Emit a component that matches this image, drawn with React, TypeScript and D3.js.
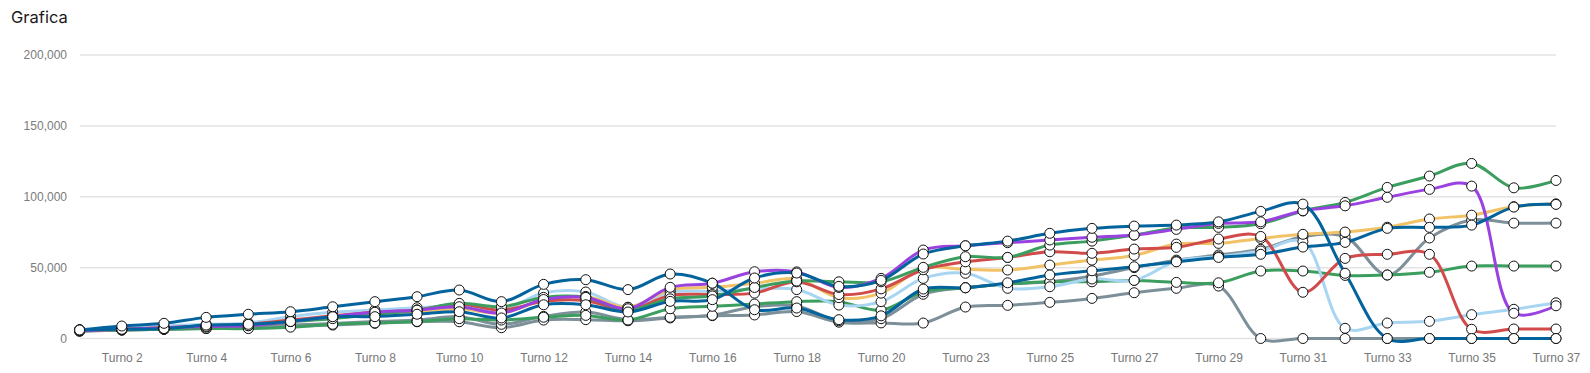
import * as d3 from 'd3';
import React, { useEffect, useRef } from 'react';

const categories = [
  'Turno 1', 'Turno 2', 'Turno 3', 'Turno 4', 'Turno 5', 'Turno 6', 'Turno 7', 'Turno 8', 'Turno 9',
  'Turno 10', 'Turno 11', 'Turno 12', 'Turno 13', 'Turno 14', 'Turno 15', 'Turno 16', 'Turno 17',
  'Turno 18', 'Turno 19', 'Turno 20', 'Turno 22', 'Turno 23', 'Turno 24', 'Turno 25', 'Turno 26',
  'Turno 27', 'Turno 28', 'Turno 29', 'Turno 30', 'Turno 31', 'Turno 32', 'Turno 33', 'Turno 34',
  'Turno 35', 'Turno 36', 'Turno 37',
];

const yTicks = [0, 50000, 100000, 150000, 200000];

// one array per player
const bluePlayerA = [6000, 8800, 10700, 14900, 17100, 18900, 22400, 26000, 29500, 34200, 26000, 38200, 41500, 34500, 45500, 39000, 20300, 21500, 13300, 16000, 34900, 35800, 39300, 44800, 47800, 50600, 54100, 57200, 59400, 64500, 67800, 77700, 78400, 80000, 92700, 94600];
const bluePlayerB = [6000, 6500, 7000, 9500, 10000, 12000, 15400, 15400, 17100, 18900, 14500, 23800, 23800, 18700, 26200, 27400, 42700, 46200, 36800, 41000, 59600, 65400, 68700, 74200, 77700, 79300, 80000, 82300, 89700, 94800, 46000, 0, 0, 0, 0, 0];
const lightBluePlayer = [6000, 7000, 8800, 10000, 11000, 15400, 18500, 20100, 21700, 23000, 20000, 32100, 32800, 22000, 32800, 33300, 35000, 34500, 23600, 26000, 42400, 46000, 35400, 36500, 42000, 41000, 54500, 57700, 61700, 68300, 7200, 10900, 12100, 16800, 20600, 25200];
const purplePlayer = [5500, 6500, 7500, 8500, 9000, 12000, 15500, 18500, 20000, 22400, 18000, 27500, 29000, 21000, 36100, 39000, 47100, 47000, 36000, 42400, 62400, 65400, 67600, 69500, 71400, 73000, 77000, 81200, 82300, 90100, 93600, 99600, 105200, 107500, 17800, 23100];
const redPlayer = [6000, 6500, 7500, 9000, 10000, 13000, 16000, 18500, 20100, 24300, 20000, 26200, 26700, 20000, 30400, 31000, 32000, 40000, 31000, 35000, 48500, 54100, 57200, 61200, 60100, 63100, 64300, 70200, 72000, 32600, 56500, 59400, 59400, 6500, 6700, 6700];
const yellowPlayer = [6000, 6500, 7500, 8500, 9500, 12000, 15000, 17000, 19000, 21000, 18000, 27000, 29700, 22000, 34400, 36100, 38900, 42000, 28800, 32000, 49500, 48800, 48300, 51800, 55300, 58600, 66600, 67100, 70600, 73500, 75100, 78500, 84300, 87000, 93000, 95000];
const greenPlayerA = [6000, 6500, 7000, 8000, 9000, 11900, 14000, 17000, 20000, 24800, 22400, 29000, 29000, 20000, 28000, 30000, 36000, 40500, 40000, 40000, 50200, 57700, 57200, 65900, 68700, 73000, 78000, 78400, 81000, 90000, 96000, 106600, 114600, 123500, 106300, 111500];
const greenPlayerB = [5500, 6000, 6500, 7000, 7000, 8000, 10000, 11000, 12000, 14000, 13000, 15000, 16300, 13000, 21000, 22700, 24300, 26000, 26000, 20000, 33000, 35800, 38400, 40000, 40000, 41000, 39600, 39300, 47600, 47600, 44500, 44800, 46700, 51100, 51100, 51100];
const grayPlayerA = [5500, 6000, 6500, 7500, 8000, 9500, 10500, 12000, 13000, 15400, 10000, 15600, 18700, 13300, 15000, 16400, 22400, 23000, 12500, 14000, 31200, 35800, 38400, 40000, 44100, 50000, 55300, 58900, 62900, 71800, 71800, 44800, 70900, 83600, 81400, 81400];
const grayPlayerB = [5000, 6000, 6500, 7000, 7500, 8500, 9500, 10700, 11800, 11800, 7600, 13000, 13300, 12500, 14500, 16100, 16600, 19000, 11500, 11000, 10900, 22200, 23400, 25500, 28300, 32300, 35400, 37000, 0, 0, 0, 0, 0, 0, 0, 0];

const series = [
  { name: 'Gris 2', color: '#7d9099', values: grayPlayerB },
  { name: 'Gris 1', color: '#7d9099', values: grayPlayerA },
  { name: 'Verde 2', color: '#3b9e5e', values: greenPlayerB },
  { name: 'Celeste', color: '#a8d5f2', values: lightBluePlayer },
  { name: 'Amarillo', color: '#f1c366', values: yellowPlayer },
  { name: 'Rojo', color: '#d24b4b', values: redPlayer },
  { name: 'Verde 1', color: '#3b9e5e', values: greenPlayerA },
  { name: 'Morado', color: '#9a42df', values: purplePlayer },
  { name: 'Azul 2', color: '#03639c', values: bluePlayerB },
  { name: 'Azul 1', color: '#03639c', values: bluePlayerA },
];

function App() {
  const ref = useRef<SVGSVGElement>(null);

  useEffect(() => {
    const width = 1590;
    const height = 373;
    const left = 79.6;
    const right = 1556;
    const top = 55;
    const bottom = 338.5;

    const svg = d3.select(ref.current);
    svg.selectAll('*').remove();

    const x = d3.scalePoint<string>().domain(categories).range([left, right]);
    const y = d3.scaleLinear().domain([0, 200000]).range([bottom, top]);

    svg.append('text')
      .attr('x', 11)
      .attr('y', 23)
      .attr('font-family', 'Inter, "Open Sans", sans-serif')
      .attr('font-size', 16.5)
      .attr('fill', '#1a1a1a')
      .text('Grafica');

    // grid lines
    svg.append('g')
      .selectAll('line')
      .data(yTicks)
      .enter()
      .append('line')
      .attr('x1', 80)
      .attr('x2', right)
      .attr('y1', d => y(d))
      .attr('y2', d => y(d))
      .attr('stroke', '#e3e3e3')
      .attr('stroke-width', 1.5);

    const yAxis = d3.axisLeft(y).tickValues(yTicks).tickFormat(d3.format(',') as any).tickSize(0).tickPadding(0);
    const gy = svg.append('g').attr('transform', 'translate(67,0)').call(yAxis);
    gy.select('.domain').remove();
    gy.selectAll('text')
      .attr('font-family', '"Liberation Sans", Arial, sans-serif')
      .attr('font-size', 12)
      .attr('fill', '#7a7a7a');

    const xAxis = d3.axisBottom(x)
      .tickValues(categories.filter((_, i) => i % 2 === 1))
      .tickSize(0)
      .tickPadding(0);
    const gx = svg.append('g').attr('transform', 'translate(0,353)').call(xAxis);
    gx.select('.domain').remove();
    gx.selectAll('text')
      .attr('dy', '0.71em')
      .attr('y', 0)
      .attr('font-family', '"Liberation Sans", Arial, sans-serif')
      .attr('font-size', 12)
      .attr('fill', '#777777');

    const line = d3.line<number>()
      .x((_, i) => x(categories[i]) as number)
      .y(d => y(d))
      .curve(d3.curveCatmullRom.alpha(0.5));

    svg.append('g')
      .selectAll('path')
      .data(series)
      .enter()
      .append('path')
      .attr('d', d => line(d.values))
      .attr('fill', 'none')
      .attr('stroke', d => d.color)
      .attr('stroke-width', 3)
      .attr('stroke-linecap', 'round');

    const markers = svg.append('g');
    series.forEach(s => {
      markers.append('g')
        .selectAll('circle')
        .data(s.values)
        .enter()
        .append('circle')
        .attr('cx', (_, i) => x(categories[i]) as number)
        .attr('cy', d => y(d))
        .attr('r', 5)
        .attr('fill', '#ffffff')
        .attr('stroke', '#111111')
        .attr('stroke-width', 1);
    });

    svg.attr('width', width).attr('height', height);
  });

  return (
    <div style={{ position: 'absolute', left: 0, top: 0 }}>
      <svg ref={ref} width={1590} height={373} style={{ display: 'block' }} />
    </div>
  );
}

export default App;
